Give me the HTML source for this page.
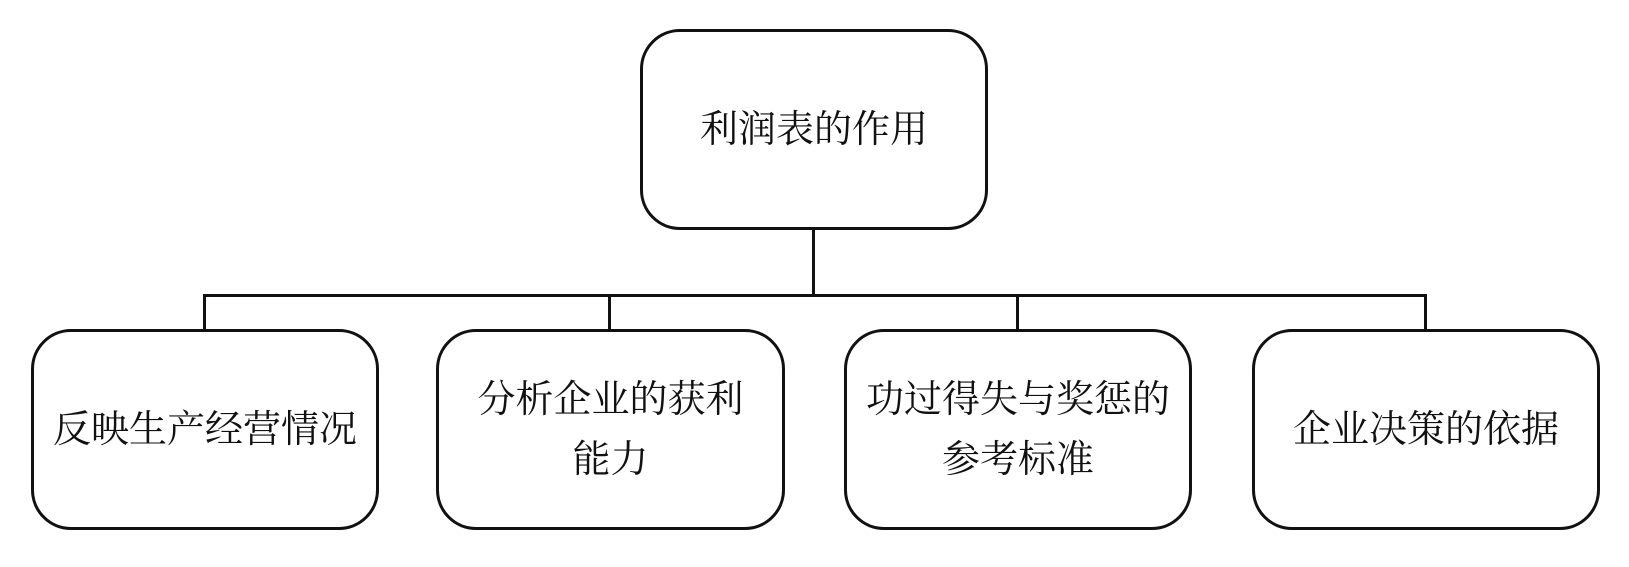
<!DOCTYPE html>
<html><head><meta charset="utf-8"><style>
html,body{margin:0;padding:0;background:#fff;}
body{width:1629px;height:567px;position:relative;overflow:hidden;font-family:"Liberation Serif","Noto Serif CJK SC",serif;}
.b{position:absolute;box-sizing:border-box;border:3px solid #111;border-radius:40px;display:flex;align-items:center;justify-content:center;text-align:center;font-size:38px;line-height:60px;color:#111;}
.l{position:absolute;background:#111;}
</style></head><body>
<div class="b" style="left:640px;top:29px;width:348px;height:201px;">利润表的作用</div>
<div class="l" style="left:812px;top:230px;width:3px;height:66px;"></div>
<div class="l" style="left:203px;top:294px;width:1224px;height:3px;"></div>
<div class="l" style="left:203px;top:294px;width:3px;height:36px;"></div>
<div class="l" style="left:608px;top:294px;width:3px;height:36px;"></div>
<div class="l" style="left:1016px;top:294px;width:3px;height:36px;"></div>
<div class="l" style="left:1424px;top:294px;width:3px;height:36px;"></div>
<div class="b" style="left:31px;top:329px;width:348px;height:201px;">反映生产经营情况</div>
<div class="b" style="left:436px;top:329px;width:349px;height:201px;">分析企业的获利<br>能力</div>
<div class="b" style="left:844px;top:329px;width:348px;height:201px;">功过得失与奖惩的<br>参考标准</div>
<div class="b" style="left:1252px;top:329px;width:348px;height:201px;">企业决策的依据</div>
</body></html>
